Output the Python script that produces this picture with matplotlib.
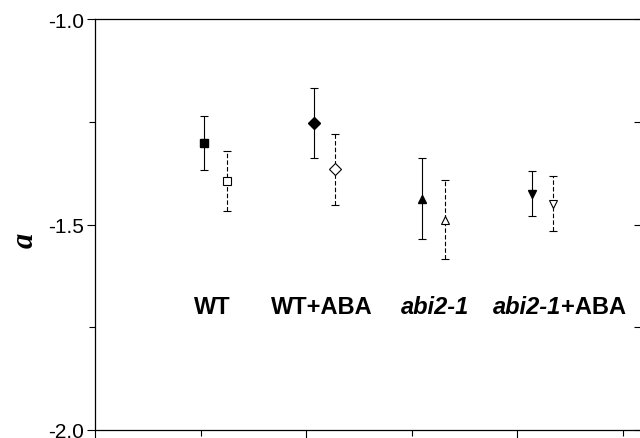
import matplotlib
matplotlib.use("Agg")
from matplotlib import pyplot as plt
from matplotlib.ticker import MultipleLocator, FormatStrFormatter

# data
group_italic = ["", "", "abi2-1", "abi2-1"]
group_plain = ["WT", "WT+ABA", "", "+ABA"]
x_filled = [1.03, 2.07, 3.10, 4.14]
x_open = [1.25, 2.27, 3.31, 4.34]
y_filled = [-1.301, -1.252, -1.437, -1.425]
err_filled = [0.066, 0.085, 0.099, 0.054]
y_open = [-1.393, -1.366, -1.488, -1.449]
err_open = [0.073, 0.086, 0.097, 0.068]
markers = ["s", "D", "^", "v"]
label_x = [1.11, 2.15, 3.22, 4.417]

plt.rcParams.update({'font.family': ['Liberation Sans', 'DejaVu Sans']})

fig = plt.figure(figsize=(6.4, 4.39), dpi=100)
ax = fig.add_axes([95/640, 1-431/439, 546/640, 411/439])

for i in range(4):
    ax.errorbar(x_filled[i], y_filled[i], yerr=err_filled[i], fmt=markers[i],
                color="black", ms=6, elinewidth=0.8, capsize=3, capthick=0.8)
    eb = ax.errorbar(x_open[i], y_open[i], yerr=err_open[i], fmt=markers[i],
                     color="black", mfc="white", ms=6, mew=0.8,
                     elinewidth=0.8, capsize=3, capthick=0.8)
    eb[2][0].set_linestyle((0, (4, 2)))

# group labels, italic gene name + upright treatment
label_y = -1.699
for i in range(4):
    it, pl = group_italic[i], group_plain[i]
    if it and pl:
        ax.text(label_x[i], label_y, it, ha="right", va="center", fontsize=17,
                fontweight="bold", style="italic")
        ax.text(label_x[i], label_y, pl, ha="left", va="center", fontsize=17,
                fontweight="bold")
    elif it:
        ax.text(label_x[i], label_y, it, ha="center", va="center", fontsize=17,
                fontweight="bold", style="italic")
    else:
        ax.text(label_x[i], label_y, pl, ha="center", va="center", fontsize=17,
                fontweight="bold")

ax.set_xlim(0, 5.17)
ax.set_ylim(-2.0, -1.0)
ax.xaxis.set_major_locator(MultipleLocator(2))
ax.xaxis.set_minor_locator(MultipleLocator(1))
ax.yaxis.set_major_locator(MultipleLocator(0.5))
ax.yaxis.set_minor_locator(MultipleLocator(0.25))
ax.yaxis.set_major_formatter(FormatStrFormatter("%.1f"))
ax.tick_params(axis="y", which="both", direction="out", labelsize=15, pad=2)
ax.tick_params(axis="x", which="both", direction="out", labelbottom=False)
ax.tick_params(which="major", length=6, width=0.8)
ax.tick_params(which="minor", length=4, width=0.8)

right = ax.secondary_yaxis("right")
right.yaxis.set_major_locator(MultipleLocator(0.25))
right.tick_params(direction="in", length=5, width=0.8, labelright=False)

ax.text(-0.128, 0.464, "a", transform=ax.transAxes, rotation=90,
        ha="center", va="center", fontsize=22, family="Liberation Serif",
        style="italic", fontweight="bold")
for s in ax.spines.values():
    s.set_linewidth(0.9)

plt.savefig("out.png", dpi=100)
